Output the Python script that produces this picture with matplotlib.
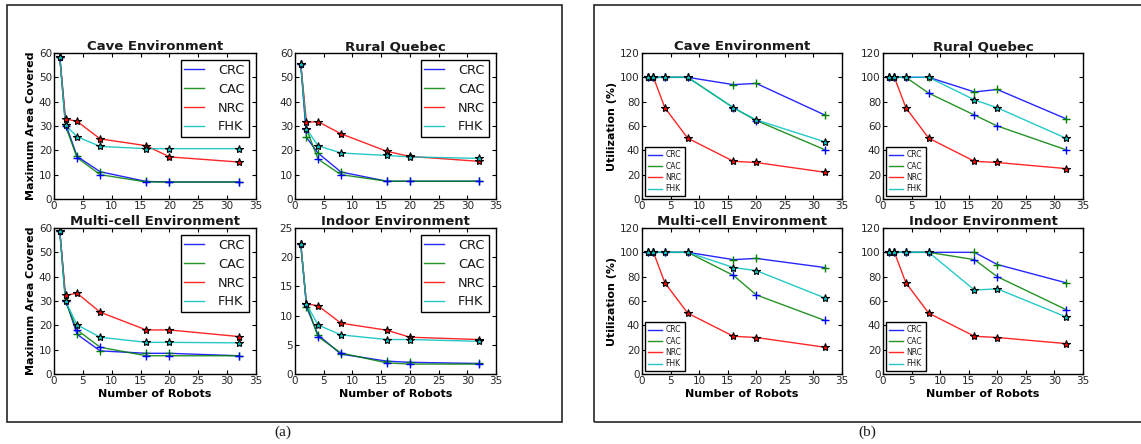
import matplotlib
matplotlib.use("Agg")
import matplotlib.pyplot as plt
from matplotlib.patches import Rectangle

# data
robots = [1, 2, 4, 8, 16, 20, 32]
methods = ["CRC", "CAC", "NRC", "FHK"]
envs = ["Cave Environment", "Rural Quebec", "Multi-cell Environment", "Indoor Environment"]

# (a) maximum area covered
area_crc = [[58.5, 31, 17.5, 11.2, 7.2, 7, 7],
            [55.5, 25.3, 18.9, 11.1, 7.3, 7.3, 7.3],
            [58.8, 30.5, 16.3, 9.5, 8.5, 8.5, 7.5],
            [22.3, 11.5, 6.7, 3.4, 2.2, 2.0, 1.8]]
area_cac = [[58.5, 30, 17, 10, 7, 7, 7],
            [55.5, 28.8, 16.4, 10, 7.3, 7.3, 7.3],
            [58.8, 29.8, 18.1, 11, 7.5, 7.5, 7.5],
            [22.3, 12, 6.4, 3.6, 1.9, 1.7, 1.7]]
area_nrc = [[58.5, 32.9, 31.9, 24.7, 21.9, 17.3, 15.2],
            [55.5, 31.5, 31.8, 26.8, 19.6, 17.5, 15.5],
            [58.8, 32.3, 33.2, 25.4, 18.1, 18.1, 15.4],
            [22.3, 12, 11.7, 8.7, 7.5, 6.3, 5.9]]
area_fhk = [[58.5, 30.3, 25.6, 21.6, 20.7, 20.7, 20.7],
            [55.5, 28.8, 21.9, 18.9, 17.9, 17.3, 16.7],
            [58.8, 29.8, 20.2, 15.1, 13, 13, 12.8],
            [22.3, 12, 8.4, 6.7, 5.9, 5.9, 5.6]]

# (b) utilization (%)
util_crc = [[100, 100, 100, 100, 94, 95, 69],
            [100, 100, 100, 100, 88, 90, 66],
            [100, 100, 100, 100, 94, 95, 87.5],
            [100, 100, 100, 100, 100, 90, 75]]
util_cac = [[100, 100, 100, 100, 75, 64.5, 40.5],
            [100, 100, 100, 87, 69, 60, 40.5],
            [100, 100, 100, 100, 81, 65, 44],
            [100, 100, 100, 100, 94, 80, 53]]
util_nrc = [[100, 100, 75, 50, 31, 30, 22],
            [100, 100, 75, 50, 31, 30, 25],
            [100, 100, 75, 50, 31, 30, 22],
            [100, 100, 75, 50, 31, 30, 25]]
util_fhk = [[100, 100, 100, 100, 75, 65, 47],
            [100, 100, 100, 100, 81.5, 75, 50],
            [100, 100, 100, 100, 87.5, 85, 62.5],
            [100, 100, 100, 100, 69, 70, 47]]

plt.rcParams.update({
    "font.family": "DejaVu Sans",
    "xtick.direction": "in", "ytick.direction": "in",
    "xtick.top": True, "ytick.right": True,
    "xtick.labelsize": 7.5, "ytick.labelsize": 7.5,
    "xtick.major.size": 3, "ytick.major.size": 3,
    "xtick.major.pad": 1.5, "ytick.major.pad": 1.5,
    "axes.linewidth": 1.0,
    "text.color": "0.1", "xtick.labelcolor": "0.15", "ytick.labelcolor": "0.15",
})

W, H = 1141, 444
fig = plt.figure(figsize=(W / 100, H / 100), dpi=100)


def px_axes(left, top, right, bottom):
    return fig.add_axes([left / W, 1 - bottom / H, (right - left) / W, (bottom - top) / H])


line_cols = ["b", "g", "r", "c"]
mark_cols = ["g", "b", "r", "c"]
mark_style = ["+", "+", "*", "*"]

cols_a = [(54, 256), (295, 496)]
cols_b = [(642, 842), (883, 1083)]
rows = [(53, 199), (228, 374)]

# frames round (a) and (b)
fig.patches.append(Rectangle((7 / W, 1 - 422 / H), 555 / W, 417 / H, transform=fig.transFigure,
                             fill=False, ec="0.15", lw=1.2))
fig.patches.append(Rectangle((594 / W, 1 - 422 / H), 600 / W, 417 / H, transform=fig.transFigure,
                             fill=False, ec="0.15", lw=1.2))
fig.text(283 / W, 1 - 432 / H, "(a)", family="Liberation Serif", fontsize=11, ha="center", va="center")
fig.text(867 / W, 1 - 432 / H, "(b)", family="Liberation Serif", fontsize=11, ha="center", va="center")

for k, env in enumerate(envs):
    r, c = divmod(k, 2)
    for panel in ("a", "b"):
        if panel == "a":
            l, rr = cols_a[c]
            series = [area_crc[k], area_cac[k], area_nrc[k], area_fhk[k]]
        else:
            l, rr = cols_b[c]
            series = [util_crc[k], util_cac[k], util_nrc[k], util_fhk[k]]
        t, b = rows[r]
        ax = px_axes(l, t, rr, b)
        for i, m in enumerate(methods):
            ax.plot(robots, series[i], color=line_cols[i], lw=1.0, label=m, alpha=0.85)
        for i, m in enumerate(methods):
            if mark_style[i] == "+":
                ax.plot(robots, series[i], ls="none", marker="+", ms=6, mew=1.0, color=mark_cols[i])
            else:
                ax.plot(robots, series[i], ls="none", marker="*", ms=6, mew=0.8,
                        mfc=mark_cols[i], mec="k")
        ax.set_xlim(0, 35)
        ax.set_xticks(range(0, 36, 5))
        if panel == "a":
            if k == 3:
                ax.set_ylim(0, 25)
                ax.set_yticks(range(0, 26, 5))
            else:
                ax.set_ylim(0, 60)
                ax.set_yticks(range(0, 61, 10))
            ax.legend(loc="upper right", fontsize=9.3, handlelength=1.5, borderaxespad=0.55,
                      labelspacing=0.45, handletextpad=1.1, fancybox=False, edgecolor="k",
                      framealpha=1, borderpad=0.3)
            if c == 0:
                ax.set_ylabel("Maximum Area Covered", fontsize=8, fontweight="bold", labelpad=2)
        else:
            ax.set_ylim(0, 120)
            ax.set_yticks(range(0, 121, 20))
            ax.legend(loc="lower left", fontsize=5.5, handlelength=1.85, borderaxespad=0.35,
                      labelspacing=0.3, handletextpad=0.5, fancybox=False, edgecolor="k",
                      framealpha=1, borderpad=0.4)
            if c == 0:
                ax.set_ylabel("Utilization (%)", fontsize=8, fontweight="bold", labelpad=2)
        if r == 1:
            ax.set_xlabel("Number of Robots", fontsize=8, fontweight="bold", labelpad=2)
        ax.set_title(env, fontsize=9.5, fontweight="bold", pad=2)

fig.savefig("out.png", dpi=100)
